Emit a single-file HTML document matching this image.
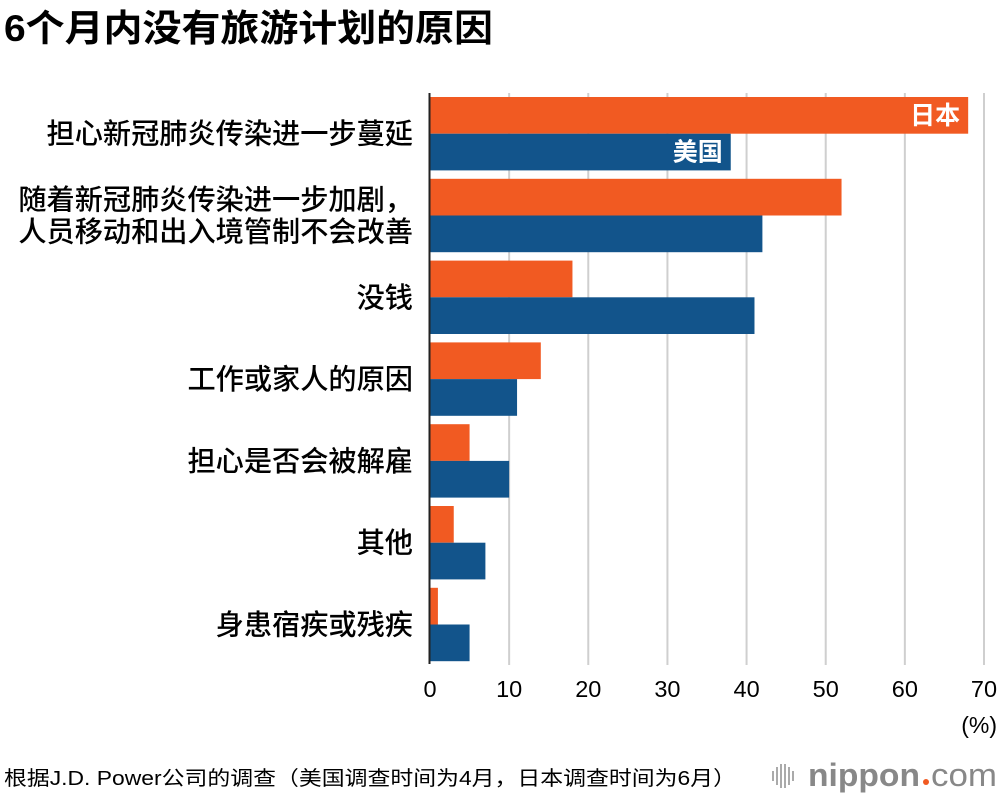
<!DOCTYPE html>
<html><head><meta charset="utf-8"><style>
body{margin:0;background:#fff;}
svg{display:block;font-family:"Liberation Sans","Noto Sans CJK SC",sans-serif;}
</style></head><body>
<svg id="chart" width="1000" height="796" viewBox="0 0 1000 796">
<text x="4" y="41" font-size="37" font-weight="bold" fill="#000" textLength="489" lengthAdjust="spacingAndGlyphs">6个月内没有旅游计划的原因</text>
<g id="grid"></g><g id="bars"></g><g id="labels"></g><g id="ticks"></g>
<line x1="429.5" y1="93" x2="429.5" y2="664" stroke="#222" stroke-width="2"/>
<text x="997" y="733" font-size="23" text-anchor="end" fill="#000">(%)</text>
<text x="4" y="785" font-size="20" fill="#000" textLength="732" lengthAdjust="spacingAndGlyphs">根据J.D. Power公司的调查（美国调查时间为4月，日本调查时间为6月）</text>
<g>
<g fill="#aaa"><rect x="772" y="771" width="2" height="10"/><rect x="776" y="767" width="2" height="18"/><rect x="780" y="764" width="2" height="24"/><rect x="784" y="764" width="2" height="24"/><rect x="788" y="767" width="2" height="18"/><rect x="792" y="771" width="2" height="10"/></g>
<text x="808" y="786" font-size="32" font-weight="bold" fill="#888" textLength="112" lengthAdjust="spacingAndGlyphs">nippon</text>
<circle cx="926" cy="782" r="3" fill="#f15a22"/>
<text x="931" y="786" font-size="32" fill="#888" textLength="66" lengthAdjust="spacingAndGlyphs">com</text>
</g>
</svg>
<script>
const categories=[["担心新冠肺炎传染进一步蔓延"],["随着新冠肺炎传染进一步加剧，","人员移动和出入境管制不会改善"],["没钱"],["工作或家人的原因"],["担心是否会被解雇"],["其他"],["身患宿疾或残疾"]];
const japanValues=[68,52,18,14,5,3,1];
const usValues=[38,42,41,11,10,7,5];
const tickValues=[0,10,20,30,40,50,60,70];
const NS="http://www.w3.org/2000/svg";
const x0=430,x1=984,maxV=70;
const xs=v=>x0+(v/maxV)*(x1-x0);
const groupTop=i=>97+i*81.8;
const bh=36.7;
function mk(tag,attrs,parent){const e=document.createElementNS(NS,tag);for(const k in attrs)e.setAttribute(k,attrs[k]);parent.appendChild(e);return e;}
const grid=document.getElementById('grid'),bars=document.getElementById('bars'),labels=document.getElementById('labels'),ticks=document.getElementById('ticks');
tickValues.forEach(t=>{
  if(t>0){const l=mk('line',{x1:xs(t),x2:xs(t),y1:93,y2:665,stroke:'#cfcfcf','stroke-width':2},grid);
  
  }
  const tx=mk('text',{x:xs(t),y:697,'font-size':23.5,'text-anchor':'middle',fill:'#000'},ticks);
  tx.textContent=t;
  
  
});
categories.forEach((c,i)=>{
  const y=groupTop(i);
  const bj=mk('rect',{x:x0,y:y,width:xs(japanValues[i])-x0,height:bh,fill:'#f15a22'},bars);
  
  
  const bu=mk('rect',{x:x0,y:y+bh,width:xs(usValues[i])-x0,height:bh,fill:'#12548b'},bars);
  
  
  const cy=y+bh;
  const lt=mk('text',{x:413,'font-size':28.2,'font-weight':500,'text-anchor':'end',fill:'#000'},labels);
  
  
  c.forEach((line,j)=>{const ts=mk('tspan',{x:413,y:cy+10+(j-(c.length-1)/2)*32},lt);ts.textContent=line;});
  if(i===0){
    const a=mk('text',{x:xs(japanValues[0])-8,y:y+27,'font-size':25,'font-weight':'bold','text-anchor':'end',fill:'#fff'},labels);
    a.textContent='日本';
    
    
    const b=mk('text',{x:xs(usValues[0])-8,y:y+bh+27,'font-size':25,'font-weight':'bold','text-anchor':'end',fill:'#fff'},labels);
    b.textContent='美国';
    
    
  }
});
</script>
</body></html>
